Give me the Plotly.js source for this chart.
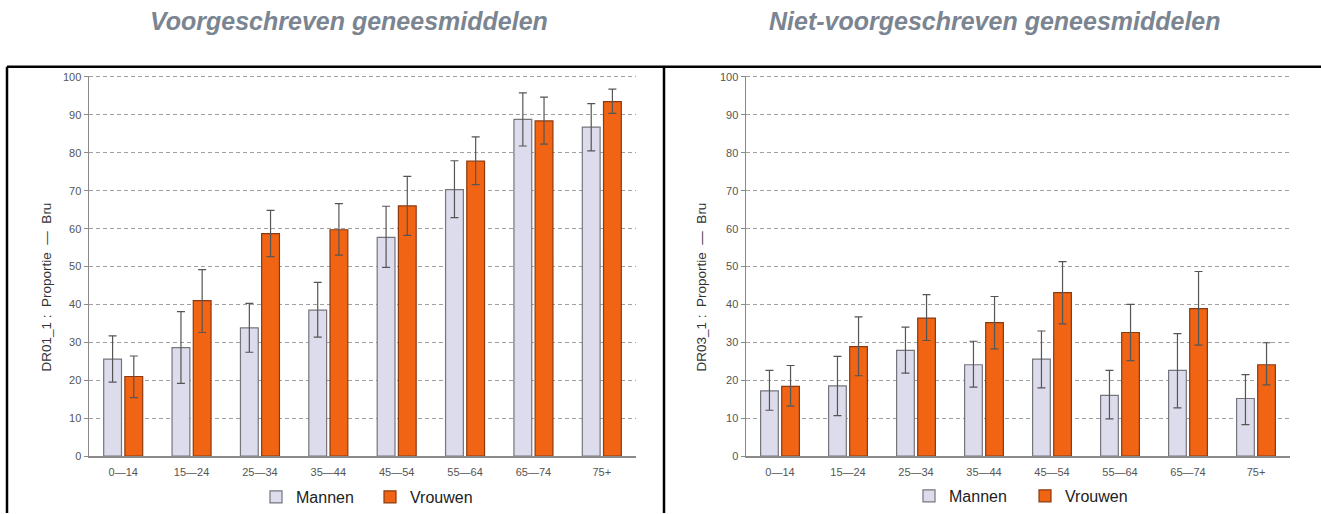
<!DOCTYPE html>
<html>
<head>
<meta charset="utf-8">
<script src="https://cdn.plot.ly/plotly-3.0.1.min.js"></script>
<style>html,body{margin:0;padding:0;background:#fff;}#chart{width:1321px;height:514px;}</style>
</head>
<body>
<div id="chart"></div>
<script>
// Categories
const ageGroups = ["0\u201414", "15\u201424", "25\u201434", "35\u201444", "45\u201454", "55\u201464", "65\u201474", "75+"];
const seriesNames = ["Mannen", "Vrouwen"];
const panelTitles = ["Voorgeschreven geneesmiddelen", "Niet-voorgeschreven geneesmiddelen"];
const yTitles = ["DR01_1 :  Proportie  \u2014  Bru", "DR03_1 :  Proportie  \u2014  Bru"];

// Panel 1: prescribed medicines
const rxMen      = [25.6, 28.6, 33.8, 38.5, 57.7, 70.3, 88.8, 86.8];
const rxMenLow   = [19.5, 19.2, 27.4, 31.4, 49.8, 62.9, 81.8, 80.5];
const rxMenHigh  = [31.7, 38.1, 40.3, 45.8, 65.9, 77.9, 95.8, 93.0];
const rxWomen    = [21.0, 41.0, 58.7, 59.7, 66.0, 77.8, 88.4, 93.5];
const rxWomenLow = [15.4, 32.6, 52.6, 53.0, 58.2, 71.6, 82.3, 90.4];
const rxWomenHigh= [26.4, 49.2, 64.8, 66.6, 73.8, 84.2, 94.7, 96.8];

// Panel 2: non-prescribed medicines
const otcMen      = [17.2, 18.5, 27.9, 24.1, 25.6, 16.0, 22.6, 15.2];
const otcMenLow   = [12.1, 10.7, 21.9, 18.2, 18.0,  9.8, 12.7,  8.3];
const otcMenHigh  = [22.6, 26.3, 34.0, 30.3, 33.0, 22.6, 32.3, 21.5];
const otcWomen    = [18.4, 28.9, 36.4, 35.2, 43.1, 32.6, 38.9, 24.1];
const otcWomenLow = [13.2, 21.2, 30.5, 28.3, 34.9, 25.2, 29.3, 18.8];
const otcWomenHigh= [23.9, 36.7, 42.6, 42.1, 51.3, 40.0, 48.7, 29.9];

const yTicks = [0, 10, 20, 30, 40, 50, 60, 70, 80, 90, 100];

const menFill = "#dcdcec", menLine = "#74767c";
const womenFill = "#f06414", womenLine = "#8c3a12";
const FONT = "Liberation Sans, Arial, sans-serif";

function errs(vals, lo, hi) {
  return {
    type: "data", symmetric: false,
    array: vals.map((v, i) => hi[i] - v),
    arrayminus: vals.map((v, i) => v - lo[i]),
    color: "#555555", thickness: 1.2, width: 4
  };
}

function bar(name, vals, lo, hi, fill, line, xa, ya, leg) {
  return {
    type: "bar", name: name, x: ageGroups, y: vals,
    xaxis: xa, yaxis: ya, legend: leg, showlegend: true,
    marker: {color: fill, line: {color: line, width: 1.2}},
    error_y: errs(vals, lo, hi),
    hoverinfo: "x+y"
  };
}

const data = [
  bar(seriesNames[0], rxMen, rxMenLow, rxMenHigh, menFill, menLine, "x", "y", "legend"),
  bar(seriesNames[1], rxWomen, rxWomenLow, rxWomenHigh, womenFill, womenLine, "x", "y", "legend"),
  bar(seriesNames[0], otcMen, otcMenLow, otcMenHigh, menFill, menLine, "x2", "y2", "legend2"),
  bar(seriesNames[1], otcWomen, otcWomenLow, otcWomenHigh, womenFill, womenLine, "x2", "y2", "legend2")
];

const W = 1321, H = 514;
const px = v => v / W;
const py = v => 1 - v / H;

function yAxis(domainY, anchor) {
  return {
    domain: domainY, anchor: anchor, range: [0, 100.3],
    tickvals: yTicks, ticktext: yTicks.map(String),
    showline: true, linecolor: "#8a8a8a", linewidth: 1.5,
    ticks: "outside", ticklen: 4, tickcolor: "#8a8a8a", tickwidth: 1,
    tickfont: {family: FONT, size: 11, color: "#555"},
    showgrid: true, gridcolor: "#a0a0a0", gridwidth: 1, griddash: "4px,3px",
    zeroline: false, fixedrange: true
  };
}
function xAxis(domainX, anchor) {
  return {
    domain: domainX, anchor: anchor,
    showline: true, linecolor: "#8a8a8a", linewidth: 2,
    ticks: "", showgrid: false, zeroline: false, ticklabelstandoff: 5,
    tickfont: {family: FONT, size: 11, color: "#555"},
    fixedrange: true
  };
}

const domY = [py(457), py(76)];

const layout = {
  width: W, height: H,
  margin: {l: 0, r: 0, t: 0, b: 0},
  paper_bgcolor: "#ffffff", plot_bgcolor: "#ffffff",
  barmode: "group", bargap: 0.38, bargroupgap: 0.16,
  xaxis: xAxis([px(89), px(636)], "y"),
  yaxis: yAxis(domY, "x"),
  xaxis2: xAxis([px(746), px(1290)], "y2"),
  yaxis2: yAxis(domY, "x2"),
  legend: {
    orientation: "h", x: px(256), xanchor: "left", y: py(498), yanchor: "middle",
    font: {family: FONT, size: 16, color: "#222"},
    entrywidth: 69, entrywidthmode: "pixels", bgcolor: "rgba(0,0,0,0)", traceorder: "normal"
  },
  legend2: {
    orientation: "h", x: px(909), xanchor: "left", y: py(496), yanchor: "middle",
    font: {family: FONT, size: 16, color: "#222"},
    entrywidth: 71, entrywidthmode: "pixels", bgcolor: "rgba(0,0,0,0)", traceorder: "normal"
  },
  annotations: [
    {text: panelTitles[0], xref: "paper", yref: "paper", x: px(349), y: py(21), xanchor: "center", yanchor: "middle",
     showarrow: false, font: {family: FONT, size: 25, color: "#7b8591", weight: "bold", style: "italic"}},
    {text: panelTitles[1], xref: "paper", yref: "paper", x: px(995), y: py(21), xanchor: "center", yanchor: "middle",
     showarrow: false, font: {family: FONT, size: 25, color: "#7b8591", weight: "bold", style: "italic"}},
    {text: yTitles[0], xref: "paper", yref: "paper", x: px(46), y: py(288), xanchor: "center", yanchor: "middle",
     textangle: -90, showarrow: false, font: {family: FONT, size: 13.5, color: "#333"}},
    {text: yTitles[1], xref: "paper", yref: "paper", x: px(701), y: py(288), xanchor: "center", yanchor: "middle",
     textangle: -90, showarrow: false, font: {family: FONT, size: 13.5, color: "#333"}}
  ],
  shapes: [
    {type: "line", xref: "paper", yref: "paper", x0: px(7), x1: px(1321), y0: py(67), y1: py(67), line: {color: "#000", width: 2.5}},
    {type: "line", xref: "paper", yref: "paper", x0: px(7), x1: px(7), y0: py(67), y1: 0, line: {color: "#000", width: 2.5}},
    {type: "line", xref: "paper", yref: "paper", x0: px(664), x1: px(664), y0: py(67), y1: 0, line: {color: "#000", width: 2.5}}
  ]
};

Plotly.newPlot("chart", data, layout, {staticPlot: true, displayModeBar: false});
</script>
</body>
</html>
